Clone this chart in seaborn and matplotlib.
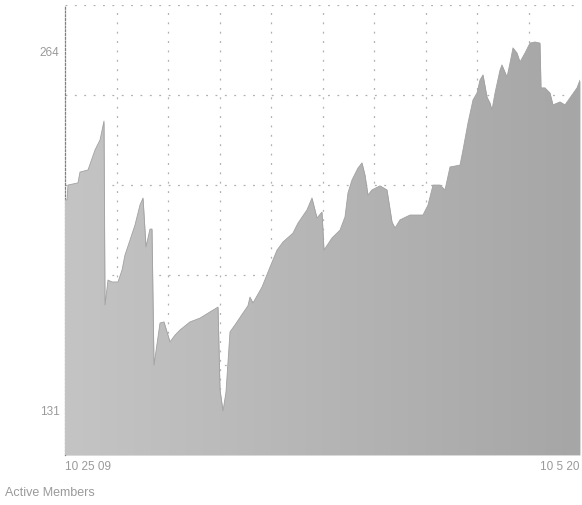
import numpy as np
import pandas as pd
import matplotlib
matplotlib.use("Agg")
import matplotlib.pyplot as plt
import seaborn as sns
from matplotlib.colors import LinearSegmentedColormap

# ---- data (t = percent of the period from 10/25/09 to 10/5/20) ----
t = [0, 0.39, 0.58, 2.52, 2.91, 4.47, 5.83, 6.80, 7.57, 7.77, 8.35, 9.13, 10.29,
     11.07, 11.65, 12.62, 13.59, 14.56, 15.15, 15.73, 16.50, 16.89, 17.28, 18.45,
     19.22, 20.39, 21.36, 22.33, 24.27, 26.21, 28.16, 29.71, 30.10, 30.68, 31.26,
     32.04, 33.01, 34.56, 35.53, 35.92, 36.50, 38.25, 39.81, 41.17, 42.33, 44.27,
     45.24, 46.99, 47.96, 48.93, 49.90, 50.29, 51.84, 53.40, 54.37, 54.95, 55.73,
     56.89, 57.67, 58.25, 58.83, 59.61, 61.17, 62.52, 63.50, 64.08, 65.05, 67.0,
     69.51, 70.49, 71.46, 72.82, 73.79, 74.76, 76.70, 77.28, 78.25, 79.22, 80.0,
     80.58, 81.17, 81.94, 82.52, 82.91, 83.50, 84.47, 84.85, 85.83, 86.41, 86.99,
     87.77, 88.35, 89.32, 90.29, 91.26, 92.23, 92.43, 93.20, 94.17, 94.76, 96.12,
     97.09, 98.06, 99.42, 100]
members = [209.2, 209.2, 214.7, 215.5, 219.5, 220.3, 227.7, 231.4, 238.4, 170.3,
           179.5, 178.8, 178.8, 183.2, 188.8, 194.3, 199.9, 207.3, 209.9, 191.8,
           198.4, 198.4, 148.0, 163.6, 164.0, 156.6, 159.1, 161.0, 164.0, 165.4,
           167.7, 169.5, 138.8, 131.0, 138.0, 160.3, 162.9, 167.3, 170.0, 173.2,
           171.0, 176.9, 184.3, 190.6, 193.6, 196.9, 200.6, 205.5, 209.9, 202.5,
           204.7, 190.6, 195.1, 198.0, 202.9, 211.8, 216.6, 221.0, 222.9, 218.4,
           211.0, 212.9, 214.4, 212.9, 201.0, 198.8, 201.8, 203.6, 203.6, 207.3,
           214.7, 214.7, 212.9, 221.4, 222.1, 227.7, 237.7, 246.2, 248.8, 253.6,
           255.5, 247.3, 245.1, 242.5, 248.8, 257.3, 259.2, 254.7, 259.9, 265.5,
           263.6, 260.3, 263.6, 267.3, 267.7, 267.3, 250.7, 250.7, 248.8, 244.4,
           245.5, 244.4, 247.0, 250.7, 253.6]
x_labels = ["10 25 09", "10 5 20"]
y_labels = [131, 264]
title = "Active Members"

df = pd.DataFrame({"t": t, "members": members})

sns.set_style("white")
plt.rcParams["font.family"] = ["Liberation Sans", "DejaVu Sans"]

fig = plt.figure(figsize=(5.82, 5.05), dpi=100)
ax = fig.add_axes([65 / 582, 1 - 455 / 505, 515 / 582, 450 / 505])

ylo, yhi = 114.7, 281.4
ax.set_xlim(0, 100)
ax.set_ylim(ylo, yhi)

# area with a soft horizontal gradient
poly = ax.fill_between(df["t"], df["members"], ylo, color="#b4b4b4", lw=0, zorder=2)
cmap = LinearSegmentedColormap.from_list("g", ["#c4c4c4", "#a6a6a6"])
grad = np.linspace(0, 1, 256).reshape(1, -1)
im = ax.imshow(grad, extent=[0, 100, ylo, yhi], aspect="auto", cmap=cmap,
               origin="lower", zorder=3)
im.set_clip_path(poly.get_paths()[0], transform=ax.transData)
sns.lineplot(data=df, x="t", y="members", ax=ax, color="#a2a2a2", lw=0.6,
             zorder=4, estimator=None, sort=False)

# grid
ax.set_xticks(np.linspace(0, 100, 11), minor=True)
ax.set_yticks(np.linspace(ylo, yhi, 6), minor=True)
ax.grid(which="minor", color="#b0b0b0", linestyle=(0, (1.5, 6)), linewidth=0.9)
ax.grid(which="major", visible=False)
ax.set_axisbelow(True)

ax.set_xticks([0, 100])
ax.set_xticklabels(x_labels, fontsize=8.5, color="#9a9a9a")
xt = ax.get_xticklabels()
xt[0].set_ha("left")
xt[1].set_ha("right")
ax.set_yticks(y_labels)
ax.set_yticklabels([str(v) for v in y_labels], fontsize=8.5, color="#9a9a9a")
ax.tick_params(which="both", length=0, pad=4)
ax.set_xlabel("")
ax.set_ylabel("")

for s in ["top", "right", "bottom"]:
    ax.spines[s].set_visible(False)
ax.spines["left"].set_linestyle((0, (1.5, 1.5)))
ax.spines["left"].set_color("#808080")
ax.spines["left"].set_linewidth(0.9)

fig.text(5 / 582, 1 - 493 / 505, title, fontsize=9, color="#9a9a9a",
         ha="left", va="center")

fig.savefig("out.png", dpi=100)
